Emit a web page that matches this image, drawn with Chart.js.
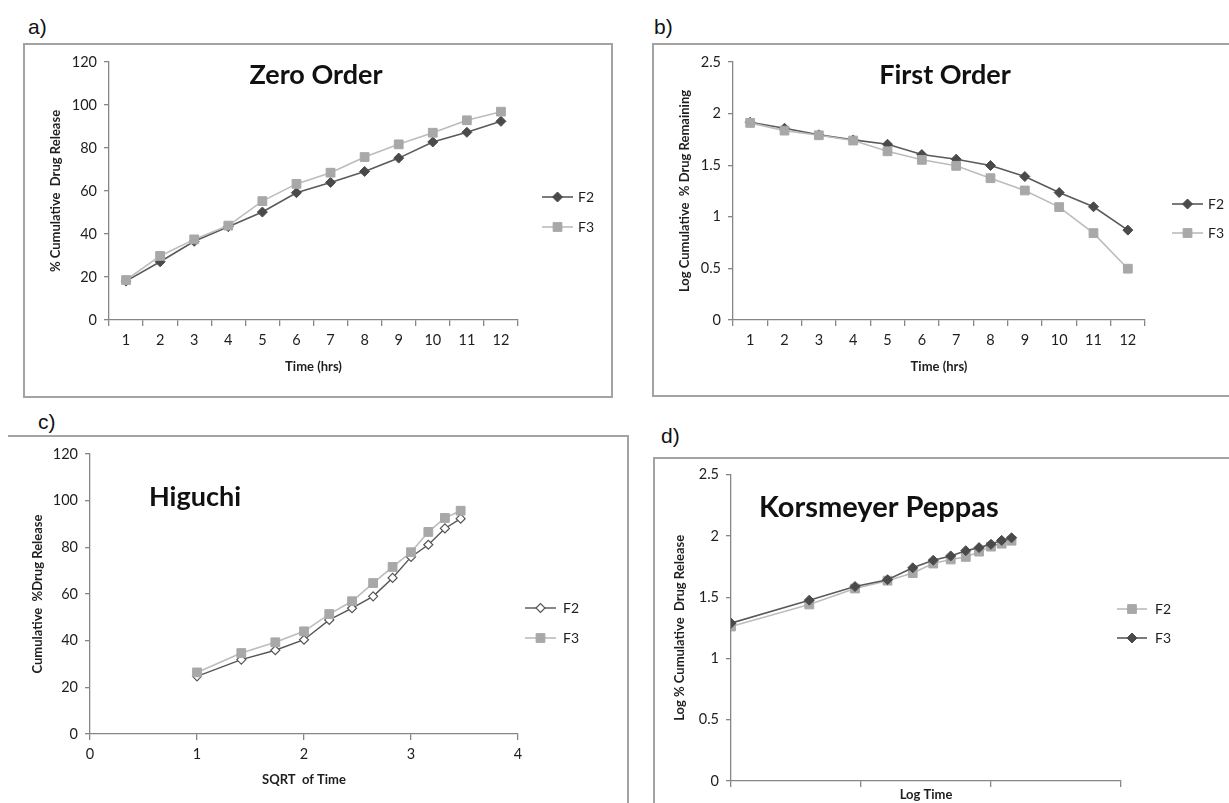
<!DOCTYPE html>
<html>
<head>
<meta charset="utf-8">
<title>Release kinetics F2 / F3</title>
<script src="https://cdn.jsdelivr.net/npm/chart.js@4.4.0/dist/chart.umd.min.js"></script>
<style>
  body { margin: 0; background: #fff; width: 1229px; height: 803px; overflow: hidden; position: relative; }
  .box { position: absolute; border: 2px solid #a3a3a3; box-sizing: border-box; }
  .tag { position: absolute; font-family: Arial, "Liberation Sans", sans-serif; font-size: 21px; line-height: 1; color: #111; }
  canvas { position: absolute; }
</style>
</head>
<body>
<div class="box" style="left:23px;top:43px;width:590px;height:355px"></div>
<div class="box" style="left:652px;top:43px;width:620px;height:354px"></div>
<div class="box" style="left:8px;top:435px;width:621px;height:420px;border-left:none;border-bottom:none"></div>
<div class="box" style="left:653px;top:457px;width:620px;height:400px;border-right:none;border-bottom:none"></div>
<div class="tag" style="left:28px;top:16px">a)</div>
<div class="tag" style="left:654px;top:16px">b)</div>
<div class="tag" style="left:38px;top:411px">c)</div>
<div class="tag" style="left:661px;top:425px">d)</div>
<canvas id="zeroChart"></canvas>
<canvas id="firstChart"></canvas>
<canvas id="higuchiChart"></canvas>
<canvas id="peppasChart"></canvas>
<script>
// time points (hrs)
const hours = ['1', '2', '3', '4', '5', '6', '7', '8', '9', '10', '11', '12'];
const sqrtTime = [1, 1.414, 1.732, 2, 2.236, 2.449, 2.646, 2.828, 3, 3.162, 3.317, 3.464];
const logTime = [0, 0.301, 0.477, 0.602, 0.699, 0.778, 0.845, 0.903, 0.954, 1, 1.041, 1.079];

// a) zero order - % cumulative drug release
const zeroF2 = [18.1, 27.1, 36.6, 43.4, 50.2, 59.2, 64.0, 69.1, 75.3, 82.8, 87.3, 92.4];
const zeroF3 = [18.6, 29.8, 37.5, 43.9, 55.3, 63.3, 68.5, 75.8, 81.7, 87.1, 92.9, 96.9];

// b) first order - log cumulative % drug remaining
const firstF2 = [1.916, 1.858, 1.794, 1.745, 1.703, 1.603, 1.558, 1.497, 1.390, 1.235, 1.097, 0.871];
const firstF3 = [1.910, 1.835, 1.790, 1.739, 1.635, 1.552, 1.494, 1.374, 1.255, 1.094, 0.842, 0.497];

// c) higuchi - cumulative % drug release vs sqrt time
const higuchiF2 = [24.7, 31.9, 35.9, 40.4, 48.9, 53.9, 59.0, 66.9, 75.9, 81.1, 88.1, 92.3];
const higuchiF3 = [26.4, 34.7, 39.3, 44.0, 51.4, 56.9, 64.7, 71.6, 77.9, 86.6, 92.6, 95.7];

// d) korsmeyer peppas - log % cumulative drug release vs log time
const peppasF2 = [1.261, 1.441, 1.571, 1.635, 1.697, 1.775, 1.808, 1.829, 1.872, 1.913, 1.937, 1.961];
const peppasF3 = [1.288, 1.476, 1.587, 1.643, 1.740, 1.802, 1.837, 1.880, 1.905, 1.932, 1.964, 1.985];

const FONT = 'Lato, "Open Sans", sans-serif';
const AXIS = '#868686';
const TEXT = '#1e1e1e';

const darkDiamond = {
    borderColor: '#5a5a5a', borderWidth: 1.6,
    pointStyle: 'rectRot', pointRadius: 5, pointBackgroundColor: '#4a4a4a', pointBorderColor: '#4a4a4a', pointBorderWidth: 1
};
const openDiamond = {
    borderColor: '#555555', borderWidth: 1.4,
    pointStyle: 'rectRot', pointRadius: 4.5, pointBackgroundColor: '#ffffff', pointBorderColor: '#555555', pointBorderWidth: 1.2
};
const lightSquare = {
    borderColor: '#bcbcbc', borderWidth: 1.6,
    pointStyle: 'rect', pointRadius: 6.2, pointBackgroundColor: '#a8a8a8', pointBorderColor: '#a8a8a8', pointBorderWidth: 1
};

// draws the in-plot heading and the little side legend
const panelText = {
    id: 'panelText',
    afterDraw(chart, args, opts) {
        const ctx = chart.ctx;
        ctx.save();
        ctx.font = 'bold ' + opts.size + 'px ' + FONT;
        ctx.fillStyle = '#111';
        ctx.textAlign = opts.align;
        ctx.textBaseline = 'middle';
        ctx.fillText(opts.text, opts.x, opts.y);

        chart.data.datasets.forEach((ds, i) => {
            const y = opts.legendY[i];
            ctx.strokeStyle = ds.borderColor;
            ctx.lineWidth = ds.borderWidth;
            ctx.beginPath();
            ctx.moveTo(opts.lineX[0], y);
            ctx.lineTo(opts.lineX[1], y);
            ctx.stroke();
            ctx.fillStyle = ds.pointBackgroundColor;
            ctx.strokeStyle = ds.pointBorderColor;
            ctx.lineWidth = ds.pointBorderWidth;
            Chart.helpers.drawPoint(ctx, { pointStyle: ds.pointStyle, radius: ds.pointRadius, rotation: 0, borderWidth: ds.pointBorderWidth }, (opts.lineX[0] + opts.lineX[1]) / 2, y);
            ctx.font = '14px ' + FONT;
            ctx.fillStyle = TEXT;
            ctx.textAlign = 'left';
            ctx.fillText(ds.label, opts.textX, y);
        });
        ctx.restore();
    }
};

function axisTitle(text, pad) {
    return { display: true, text: text, color: TEXT, font: { family: FONT, size: 13, weight: 'bold', lineHeight: 1.2 }, padding: pad };
}

function tickStyle(extra) {
    return Object.assign({
        color: TEXT, font: { family: FONT, size: 14.5 }, padding: 7, maxRotation: 0, autoSkip: false,
        callback: function (value) { return this.getLabelForValue(value); }
    }, extra);
}

function makeChart(id, panel, xScale, yScale, datasets) {
    const [cx, cy, w, h] = panel.canvas;
    const [l, t, r, b] = panel.area;
    const canvas = document.getElementById(id);
    canvas.width = w;
    canvas.height = h;
    canvas.style.left = cx + 'px';
    canvas.style.top = cy + 'px';

    xScale.grid = { offset: xScale.offset, drawOnChartArea: false, drawTicks: true, tickLength: 6, color: AXIS, lineWidth: 1.3 };
    xScale.border = { color: AXIS, width: 1.3 };
    xScale.title = axisTitle(panel.xTitle, { top: 0, bottom: cy + h - panel.xTitleY - 7.8 });
    xScale.afterFit = s => { s.height = cy + h - b; };

    yScale.grid = { drawOnChartArea: false, drawTicks: true, tickLength: 5, color: AXIS, lineWidth: 1.3 };
    yScale.border = { color: AXIS, width: 1.3 };
    yScale.ticks = tickStyle(yScale.ticks);
    yScale.title = axisTitle(panel.yTitle, { top: panel.yTitleX - cx - 7.8, bottom: 0 });
    yScale.afterFit = s => { s.width = l - cx; };

    new Chart(canvas.getContext('2d'), {
        type: 'line',
        data: { labels: panel.labels, datasets: datasets },
        options: {
            responsive: false,
            animation: false,
            events: [],
            layout: { padding: { left: 0, top: t - cy, right: cx + w - r, bottom: 0 } },
            elements: { line: { tension: 0 } },
            scales: { x: xScale, y: yScale },
            plugins: {
                legend: { display: false },
                tooltip: { enabled: false },
                panelText: {
                    text: panel.title, size: panel.titleSize, align: panel.titleAlign, x: panel.titleX - cx, y: panel.titleY - cy,
                    lineX: [panel.legendLine[0] - cx, panel.legendLine[1] - cx], textX: panel.legendText - cx,
                    legendY: panel.legendY.map(v => v - cy)
                }
            }
        },
        plugins: [panelText]
    });
}

function points(xs, ys) {
    return xs.map((x, i) => ({ x: x, y: ys[i] }));
}

// a) Zero Order
makeChart('zeroChart', {
    canvas: [24, 44, 587, 353], area: [109, 62, 518, 320],
    labels: hours, title: 'Zero Order', titleSize: 27, titleAlign: 'center', titleX: 316, titleY: 75,
    xTitle: 'Time (hrs)', xTitleY: 367, yTitle: '% Cumulative  Drug Release', yTitleX: 56,
    legendLine: [542, 573], legendText: 578, legendY: [197, 227]
}, {
    type: 'category', offset: true, ticks: tickStyle({ padding: 6 })
}, {
    min: 0, max: 120, ticks: { stepSize: 20 }
}, [
    Object.assign({ label: 'F2', data: zeroF2, order: 2 }, darkDiamond),
    Object.assign({ label: 'F3', data: zeroF3, order: 1 }, lightSquare)
]);

// b) First Order
makeChart('firstChart', {
    canvas: [653, 44, 576, 352], area: [733, 62, 1145, 320],
    labels: hours, title: 'First Order', titleSize: 27, titleAlign: 'center', titleX: 945, titleY: 75,
    xTitle: 'Time (hrs)', xTitleY: 367, yTitle: 'Log Cumulative  % Drug Remaining', yTitleX: 685,
    legendLine: [1172, 1203], legendText: 1208, legendY: [204, 233]
}, {
    type: 'category', offset: true, ticks: tickStyle({ padding: 6 })
}, {
    min: 0, max: 2.5, ticks: { stepSize: 0.5 }
}, [
    Object.assign({ label: 'F2', data: firstF2, order: 2 }, darkDiamond),
    Object.assign({ label: 'F3', data: firstF3, order: 1 }, lightSquare)
]);

// c) Higuchi
makeChart('higuchiChart', {
    canvas: [8, 437, 619, 366], area: [90, 454, 518, 734],
    labels: [], title: 'Higuchi', titleSize: 27, titleAlign: 'left', titleX: 149, titleY: 497,
    xTitle: 'SQRT  of Time', xTitleY: 780, yTitle: 'Cumulative  %Drug Release', yTitleX: 38,
    legendLine: [525, 556], legendText: 563, legendY: [608, 638]
}, {
    type: 'linear', min: 0, max: 4, offset: false, ticks: tickStyle({ stepSize: 1, padding: 6 })
}, {
    min: 0, max: 120, ticks: { stepSize: 20 }
}, [
    Object.assign({ label: 'F2', data: points(sqrtTime, higuchiF2), order: 2 }, openDiamond),
    Object.assign({ label: 'F3', data: points(sqrtTime, higuchiF3), order: 1 }, lightSquare)
]);

// d) Korsmeyer Peppas
makeChart('peppasChart', {
    canvas: [655, 459, 574, 344], area: [731, 472, 1121, 781],
    labels: [], title: 'Korsmeyer Peppas', titleSize: 29, titleAlign: 'left', titleX: 759, titleY: 508,
    xTitle: 'Log Time', xTitleY: 795, yTitle: 'Log % Cumulative  Drug Release', yTitleX: 680,
    legendLine: [1117, 1147], legendText: 1155, legendY: [609, 638]
}, {
    type: 'linear', min: 0, max: 1.5, offset: false, ticks: tickStyle({ stepSize: 0.5, display: false })
}, {
    min: 0, max: 2.5, ticks: { stepSize: 0.5 }
}, [
    Object.assign({ label: 'F2', data: points(logTime, peppasF2), order: 2 }, lightSquare),
    Object.assign({ label: 'F3', data: points(logTime, peppasF3), order: 1 }, darkDiamond)
]);
</script>
</body>
</html>
